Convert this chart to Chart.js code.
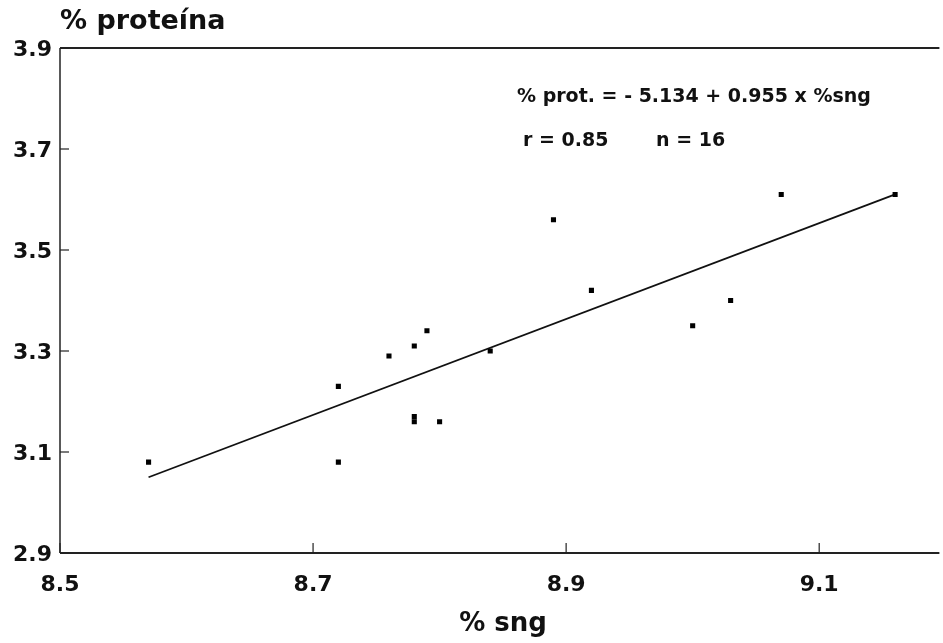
<!DOCTYPE html>
<html>
<head>
<meta charset="utf-8">
<script src="https://cdn.jsdelivr.net/npm/chart.js@4.4.1/dist/chart.umd.min.js"></script>
<style>
html,body{margin:0;padding:0;background:#fff;}
#wrap{width:943px;height:643px;position:relative;}
</style>
</head>
<body>
<div id="wrap"><canvas id="c" width="943" height="643"></canvas></div>
<script>
// ---- data ----
const sngValues = [8.57, 8.72, 8.72, 8.76, 8.78, 8.78, 8.78, 8.79, 8.80, 8.84, 8.89, 8.92, 9.00, 9.03, 9.07, 9.16];
const proteinValues = [3.08, 3.23, 3.08, 3.29, 3.31, 3.17, 3.16, 3.34, 3.16, 3.30, 3.56, 3.42, 3.35, 3.40, 3.61, 3.61];
const fitLineX = [8.57, 9.16];
const fitLineY = [3.05, 3.61];
const xTickValues = [8.5, 8.7, 8.9, 9.1];
const yTickValues = [2.9, 3.1, 3.3, 3.5, 3.7, 3.9];
const xAxisTitle = '% sng';
const yAxisTitle = '% proteína';
const equationText = '% prot. = - 5.134 + 0.955 x %sng';
const rText = 'r = 0.85';
const nText = 'n = 16';

const FONT = '"DejaVu Sans", "Liberation Sans", sans-serif';
const INK = '#111';

const points = sngValues.map((x, i) => ({x: x, y: proteinValues[i]}));
const fitPoints = fitLineX.map((x, i) => ({x: x, y: fitLineY[i]}));

const framePlugin = {
  id: 'frame',
  afterDraw(chart) {
    const ctx = chart.ctx;
    const xs = chart.scales.x, ys = chart.scales.y;
    const a = chart.chartArea;
    ctx.save();
    ctx.strokeStyle = '#222';
    // left axis
    ctx.lineWidth = 1.5;
    ctx.beginPath(); ctx.moveTo(a.left, a.top); ctx.lineTo(a.left, a.bottom); ctx.stroke();
    // bottom axis
    ctx.lineWidth = 2;
    ctx.beginPath(); ctx.moveTo(a.left, a.bottom); ctx.lineTo(a.right, a.bottom); ctx.stroke();
    // top frame line
    ctx.beginPath(); ctx.moveTo(a.left, a.top); ctx.lineTo(a.right, a.top); ctx.stroke();
    // inward tick marks
    ctx.lineWidth = 1.2;
    xTickValues.forEach(v => {
      const px = xs.getPixelForValue(v);
      ctx.beginPath(); ctx.moveTo(px, a.bottom); ctx.lineTo(px, a.bottom - 10); ctx.stroke();
    });
    yTickValues.forEach(v => {
      const py = ys.getPixelForValue(v);
      ctx.beginPath(); ctx.moveTo(a.left, py); ctx.lineTo(a.left + 9, py); ctx.stroke();
    });
    // tick labels
    ctx.fillStyle = INK;
    ctx.font = 'bold 22px ' + FONT;
    ctx.textBaseline = 'middle';
    ctx.textAlign = 'right';
    yTickValues.forEach(v => {
      ctx.fillText(v.toFixed(1), a.left - 8, ys.getPixelForValue(v) + 2);
    });
    ctx.textAlign = 'center';
    xTickValues.forEach(v => {
      ctx.fillText(v.toFixed(1), xs.getPixelForValue(v), a.bottom + 32);
    });
    // axis titles
    ctx.textBaseline = 'alphabetic';
    ctx.textAlign = 'left';
    ctx.font = 'bold 27px ' + FONT;
    ctx.fillText(yAxisTitle, a.left, 29);
    ctx.textAlign = 'center';
    ctx.font = 'bold 26px ' + FONT;
    ctx.fillText(xAxisTitle, 503, 631);
    // regression annotation
    ctx.textAlign = 'left';
    ctx.font = 'bold 19px ' + FONT;
    ctx.fillText(equationText, 517, 102);
    ctx.fillText(rText, 523, 146);
    ctx.fillText(nText, 656, 146);
    ctx.restore();
  }
};

new Chart(document.getElementById('c'), {
  type: 'scatter',
  data: {
    datasets: [
      {
        label: 'datos',
        data: points,
        showLine: false,
        pointStyle: 'rect',
        pointRadius: 3.6,
        pointHoverRadius: 3.6,
        backgroundColor: '#000',
        borderWidth: 0
      },
      {
        label: 'regresión',
        data: fitPoints,
        showLine: true,
        borderColor: '#111',
        borderWidth: 1.8,
        pointRadius: 0,
        fill: false
      }
    ]
  },
  options: {
    responsive: false,
    animation: false,
    devicePixelRatio: 1,
    layout: { padding: { left: 60, right: 0, top: 48, bottom: 90 } },
    plugins: { legend: { display: false }, tooltip: { enabled: false }, title: { display: false } },
    scales: {
      x: {
        type: 'linear', min: 8.5, max: 9.195,
        ticks: { display: false },
        grid: { display: false },
        border: { display: false },
        afterFit(s) { s.height = 0; }
      },
      y: {
        type: 'linear', min: 2.9, max: 3.9,
        ticks: { display: false },
        grid: { display: false },
        border: { display: false },
        afterFit(s) { s.width = 0; }
      }
    }
  },
  plugins: [framePlugin]
});
</script>
</body>
</html>
